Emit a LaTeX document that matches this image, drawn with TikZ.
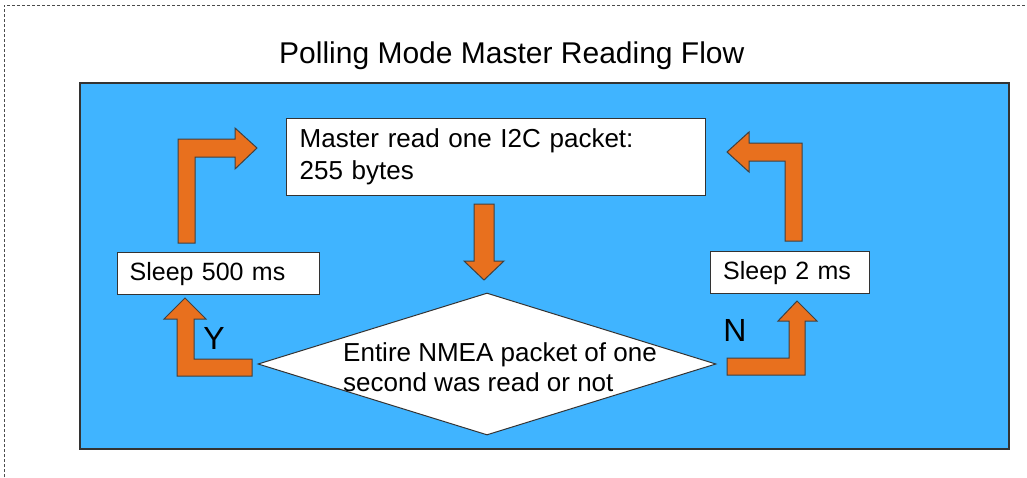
\documentclass[tikz,border=0pt]{standalone}
\usepackage{fontspec}
\setmainfont{Liberation Sans}
\usetikzlibrary{shapes.geometric}
\usetikzlibrary{positioning}

\definecolor{panelblue}{RGB}{64,180,255}
\definecolor{arroworange}{RGB}{232,112,30}

\tikzset{
	box/.style={draw=black!80, fill=white, line width=1.3pt, anchor=north west, align=left, inner ysep=0pt},
	blockarrow/.style={fill=arroworange, draw=black!75, line width=1pt, line join=miter},
	yesno/.style={font=\fontsize{32}{32}\selectfont, inner sep=0pt}
}

\begin{document}
\begin{tikzpicture}[x=1pt,y=-1pt]
	\useasboundingbox (0,0) rectangle (1027,477);
	% frame and panel
	\draw [black!70, dash pattern=on 3pt off 2pt, line width=0.8pt] (4,477) -- (4,5) -- (1027,5);
	\node [anchor=base west, inner sep=0pt, font=\fontsize{30}{30}\selectfont] (title) at (279,63) {Polling Mode Master Reading Flow};
	\draw [black!80, fill=panelblue, line width=1.5pt] (80,83) rectangle (1009,449);
	% boxes
	\node [box, minimum width=419, minimum height=77, text width=393, inner xsep=13, font=\fontsize{26}{32}\selectfont] (master) at (286,118) {Master read one I2C packet:\\255 bytes};
	\node [box, minimum width=202, minimum height=42, text width=178, inner xsep=12, font=\fontsize{25}{30}\selectfont] (sleepy) at (117,252) {Sleep 500 ms};
	\node [box, minimum width=159, minimum height=42, text width=134, inner xsep=12.5, font=\fontsize{25}{30}\selectfont] (sleepn) at (710,251) {Sleep 2 ms};
	\node [diamond, draw=black!80, fill=white, line width=1pt, minimum width=458, minimum height=142, inner sep=0pt] (check) at (487,364) {};
	\node [anchor=north west, align=left, inner sep=0pt, font=\fontsize{26}{30}\selectfont] (checktext) at (343,342) {Entire NMEA packet of one\\second was read or not};
	% block arrows
	\draw [blockarrow] (474,204) -- (494,204) -- (494,261) -- (504,261) -- (484,280) -- (464,261) -- (474,261) -- cycle;
	\draw [blockarrow] (252,359) -- (194,359) -- (194,319) -- (206,319) -- (185,298) -- (164,319) -- (177,319) -- (177,376) -- (252,376) -- cycle;
	\draw [blockarrow] (178,243) -- (178,139) -- (235,139) -- (235,128) -- (257,148) -- (235,169) -- (235,157) -- (195,157) -- (195,243) -- cycle;
	\draw [blockarrow] (727,358) -- (789,358) -- (789,321) -- (778,321) -- (797,301) -- (817,321) -- (805,321) -- (805,375) -- (727,375) -- cycle;
	\draw [blockarrow] (785,241) -- (785,161) -- (749,161) -- (749,172) -- (727,152) -- (749,132) -- (749,143) -- (802,143) -- (802,241) -- cycle;
	% answers
	\node [yesno] (yes) at (214,338) {Y};
	\node [yesno] (no) at (735,330) {N};
\end{tikzpicture}
\end{document}
